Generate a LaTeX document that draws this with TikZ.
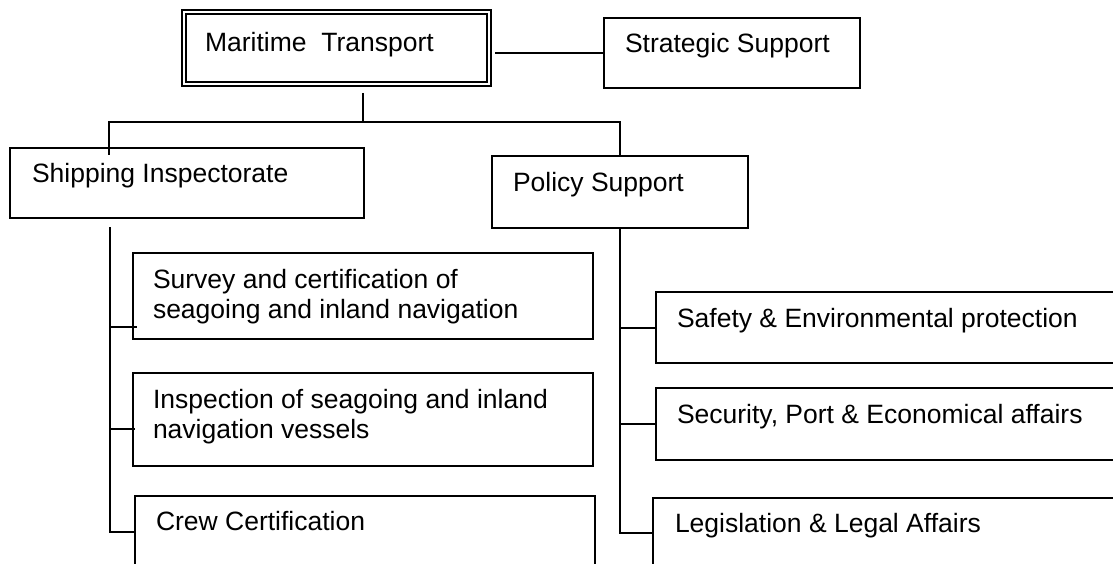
\documentclass[tikz,border=0pt]{standalone}
\usepackage{fontspec}
\setmainfont{Liberation Sans}
\usetikzlibrary{fit}
\begin{document}
\begin{tikzpicture}[x=1pt,y=-1pt,
  box/.style={draw, inner sep=0pt, outer sep=0pt, line width=2.2pt},
  dbox/.style={draw, double, double distance=2pt, inner sep=0pt, outer sep=0pt, line width=2pt},
  lbl/.style={inner sep=0pt, outer sep=0pt, anchor=base west, font=\fontsize{26.5}{30}\selectfont},
  wire/.style={line width=2.2pt}]
\clip (0,0) rectangle (1113,564);
\fill[white] (0,0) rectangle (1113,564);

% boxes
\node[dbox, fit={(183.5,12.3) (488.5,84.5)}] (mt) {};
\node[box, fit={(604,18) (860,88)}] (sg) {};
\node[box, fit={(10,148) (364,218)}] (si) {};
\node[box, fit={(492,156) (748,228)}] (ps) {};
\node[box, fit={(133,253) (593,339)}] (sv) {};
\node[box, fit={(133,373) (593,466)}] (in) {};
\node[box, fit={(135,496) (595,620)}] (cc) {};
\node[box, fit={(656,292) (1125,363)}] (sf) {};
\node[box, fit={(656,388) (1125,460)}] (se) {};
\node[box, fit={(653,498) (1125,620)}] (lg) {};

% labels
\node[lbl] (mtT) at (205,52) {Maritime\ \ Transport};
\node[lbl] (sgT) at (625,53) {Strategic Support};
\node[lbl] (siT) at (32,183) {Shipping Inspectorate};
\node[lbl] (psT) at (513,192) {Policy Support};
\node[lbl] (svT1) at (153,288) {Survey and certification of};
\node[lbl] (svT2) at (153,318) {seagoing and inland navigation};
\node[lbl] (inT1) at (153,408) {Inspection of seagoing and inland};
\node[lbl] (inT2) at (153,438) {navigation vessels};
\node[lbl] (ccT) at (156,530) {Crew Certification};
\node[lbl] (sfT) at (677,327) {Safety \& Environmental protection};
\node[lbl] (seT) at (677,423) {Security, Port \& Economical affairs};
\node[lbl] (lgT) at (675,532) {Legislation \& Legal Affairs};

% connectors
\coordinate (mtR) at (495,53);
\draw[wire] (mtR) -- (sg.west);

\coordinate (mtB) at (363,93);
\coordinate (bar) at (363,122);
\coordinate (siTop) at (109,155);
\draw[wire] (mtB) -- (bar);
\draw[wire] (siTop) |- (bar) -| (ps.north);

% left spine
\coordinate (siB) at (110,227);
\coordinate (b1) at (110,327);
\coordinate (b2) at (110,429);
\coordinate (b3) at (110,532);
\draw[wire] (siB) -- (b3) -- (b3 -| cc.west);
\draw[wire] (b1) -- ([xshift=4pt]b1 -| sv.west);
\draw[wire] (b2) -- ([xshift=2pt]b2 -| in.west);

% right spine
\coordinate (r1) at (620,328);
\coordinate (r2) at (620,424);
\coordinate (r3) at (620,533);
\draw[wire] (ps.south) -- (r3) -- (r3 -| lg.west);
\draw[wire] (r1) -- (r1 -| sf.west);
\draw[wire] (r2) -- (r2 -| se.west);
\end{tikzpicture}
\end{document}
